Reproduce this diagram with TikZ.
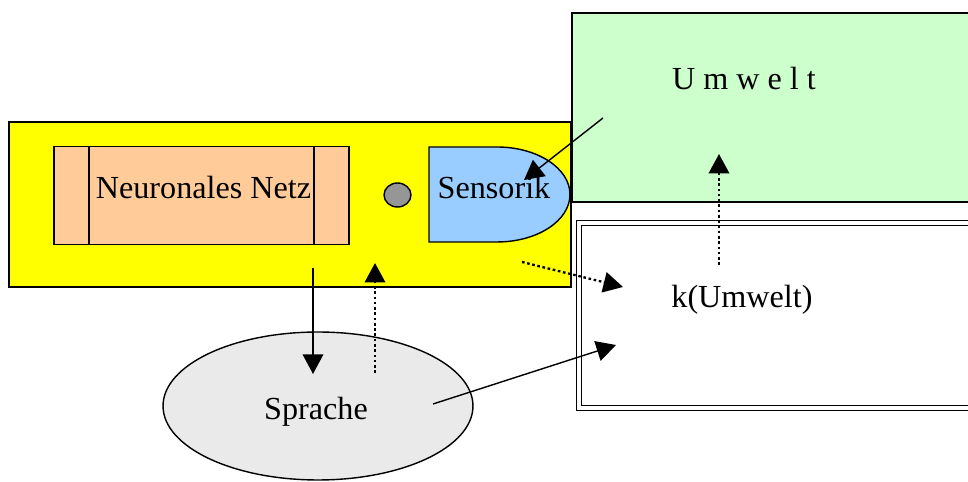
\documentclass[tikz,border=0pt]{standalone}
\usepackage{fontspec}
\setmainfont{Liberation Serif}
\usetikzlibrary{arrows.meta,shapes.geometric}
\definecolor{roboter}{RGB}{255,255,0}
\definecolor{netz}{RGB}{255,204,153}
\definecolor{sensor}{RGB}{153,204,255}
\definecolor{umwelt}{RGB}{204,255,204}
\definecolor{gelenk}{RGB}{150,150,150}
\definecolor{sprache}{RGB}{234,234,234}

\begin{document}
\begin{tikzpicture}[x=0.02cm, y=-0.02cm,
    box/.style={draw=black, line width=0.8pt, inner sep=0pt, outer sep=0pt},
    caption/.style={font=\fontsize{18.3}{22}\selectfont, inner sep=0pt, anchor=base},
    chain/.style={draw=black, line width=0.8pt, -{Triangle[length=0.39cm, width=0.41cm]}},
    branch/.style={chain, line width=1.3pt, dash pattern=on 1.5pt off 1.5pt}
  ]
  \useasboundingbox (0,0) rectangle (968,482);
  % Roboter mit Netz, Gelenk und Sensorik
  \node [box, fill=roboter, minimum width=11.24cm, minimum height=3.3cm] (robot) at (290,204.5) {};
  \node [box, fill=netz, minimum width=5.9cm, minimum height=1.96cm] (netz) at (201.5,195.5) {};
  \draw [line width=0.8pt] ([xshift=0.7cm]netz.north west) -- ([xshift=0.7cm]netz.south west);
  \draw [line width=0.8pt] ([xshift=-0.7cm]netz.north east) -- ([xshift=-0.7cm]netz.south east);
  \node [box, ellipse, fill=gelenk, minimum width=0.54cm, minimum height=0.48cm] (knopf) at (397.5,195) {};
  % Umwelt und Modell
  \node [box, fill=umwelt, minimum width=8.1cm, minimum height=3.78cm, anchor=north west] (umwelt) at (572,13) {};
  \draw [box, fill=sensor] (429,147) -- (497,147) arc [start angle=90, end angle=-90, x radius=1.46cm, y radius=0.95cm] -- (429,242) -- cycle;
  \node [draw=black, line width=0.8pt, double, double distance=0.072cm, inner sep=0pt, minimum width=8cm, minimum height=3.7cm, anchor=north west] (modell) at (578.2,222.5) {};
  \node [box, ellipse, fill=sprache, minimum width=6.2cm, minimum height=2.96cm] (sprache) at (318,406) {};

  \node [caption] (netz text) at (203.5,199) {Neuronales Netz};
  \node [caption] (sensor text) at (494,199) {Sensorik};
  \node [caption] (umwelt text) at (744,90) {U m w e l t};
  \node [caption] (modell text) at (742,308) {k(Umwelt)};
  \node [caption] (sprache text) at (316,420) {Sprache};

  \coordinate (netz out) at (313,268);
  \coordinate (sprache in) at (313,374);
  \coordinate (sprache up) at (375,373);
  \coordinate (robot in) at (375,263);
  \coordinate (robot out) at (522,262);
  \coordinate (modell in) at (623,287);
  \coordinate (sprache out) at (433,404);
  \coordinate (modell in2) at (616,345);
  \coordinate (modell out) at (719,265);
  \coordinate (umwelt in) at (719,154);
  \coordinate (umwelt out) at (603,118);
  \coordinate (sensor in) at (524,180);

  \begin{scope}[every path/.style={chain}]
  \path (netz out) -- (sprache in);
  \path [branch] (sprache up) -- (robot in);
  \path [branch] (robot out) -- (modell in);
  \path (sprache out) -- (modell in2);
  \path [branch] (modell out) -- (umwelt in);
  \path (umwelt out) -- (sensor in);
  \end{scope}
\end{tikzpicture}
\end{document}
